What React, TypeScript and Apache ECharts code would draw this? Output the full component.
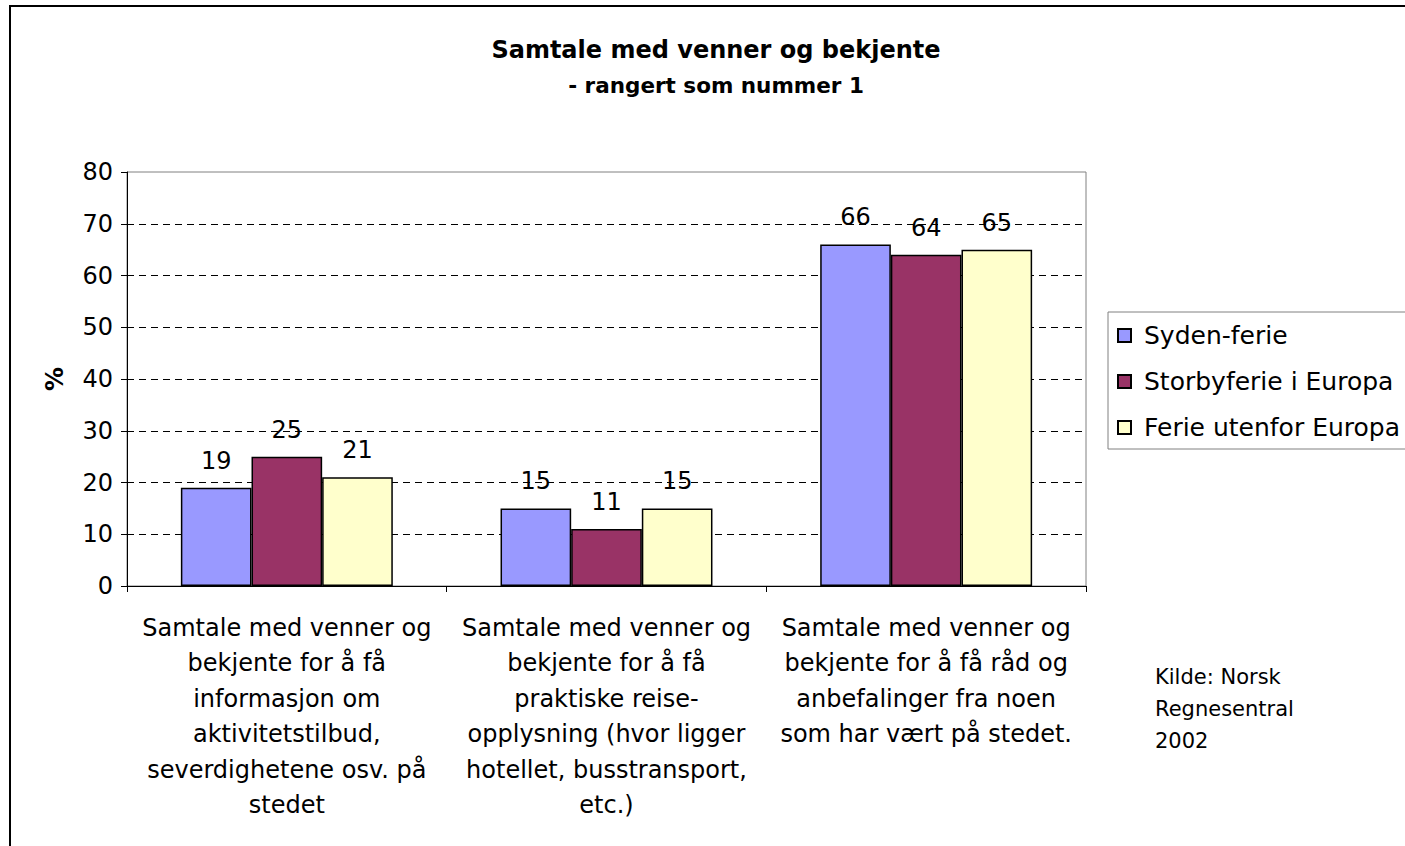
import React, { useEffect, useRef } from "react";
import * as echarts from "echarts";

const categories: string[] = [
  "Samtale med venner og\nbekjente for å få\ninformasjon om\naktivitetstilbud,\nseverdighetene osv. på\nstedet",
  "Samtale med venner og\nbekjente for å få\npraktiske reise-\nopplysning (hvor ligger\nhotellet, busstransport,\netc.)",
  "Samtale med venner og\nbekjente for å få råd og\nanbefalinger fra noen\nsom har vært på stedet.",
];

const seriesNames: string[] = ["Syden-ferie", "Storbyferie i Europa", "Ferie utenfor Europa"];
const sydenValues: number[] = [19, 15, 66];
const storbyValues: number[] = [25, 11, 64];
const utenforValues: number[] = [21, 15, 65];
const seriesColors: string[] = ["#9999FF", "#993366", "#FFFFCC"];

const yTicks = { min: 0, max: 80, interval: 10 };

const titleLine1 = "Samtale med venner og bekjente";
const titleLine2 = "- rangert som nummer 1";
const sourceNote = "Kilde: Norsk\nRegnesentral\n2002";
const yAxisName = "%";

const FONT = "'DejaVu Sans', 'Liberation Sans', Arial, sans-serif";

export default function App() {
  const ref = useRef<HTMLDivElement>(null);

  useEffect(() => {
    if (!ref.current) return;
    const chart = echarts.init(ref.current, undefined, { renderer: "svg" });
    const values = [sydenValues, storbyValues, utenforValues];
    chart.setOption({
      animation: false,
      backgroundColor: "#ffffff",
      textStyle: { fontFamily: FONT, color: "#000" },
      grid: {
        left: 127,
        top: 172,
        right: 319,
        bottom: 260,
        show: true,
        borderColor: "#808080",
        borderWidth: 1,
        backgroundColor: "transparent",
      },
      legend: {
        orient: "vertical",
        left: 1108,
        top: 312,
        padding: [11, 60, 9, 9],
        itemGap: 21,
        itemWidth: 13,
        itemHeight: 13,
        borderColor: "#808080",
        borderWidth: 1,
        icon: "rect",
        data: seriesNames,
        textStyle: {
          fontFamily: FONT,
          fontSize: 25,
          color: "#000",
          padding: [0, 0, 0, 8],
        },
      },
      xAxis: {
        type: "category",
        data: categories,
        axisLine: { show: true, lineStyle: { color: "#000", width: 1 } },
        axisTick: { show: true, length: 6, alignWithLabel: false, lineStyle: { color: "#000" } },
        axisLabel: {
          interval: 0,
          fontFamily: FONT,
          fontSize: 24,
          lineHeight: 35.5,
          margin: 24,
          color: "#000",
          align: "center",
        },
        splitLine: { show: false },
      },
      yAxis: {
        type: "value",
        min: yTicks.min,
        max: yTicks.max,
        interval: yTicks.interval,
        name: yAxisName,
        nameLocation: "middle",
        nameGap: 60,
        nameRotate: 90,
        nameTextStyle: { fontFamily: FONT, fontSize: 24, fontWeight: "bold", color: "#000" },
        axisLine: { show: true, lineStyle: { color: "#000", width: 1 } },
        axisTick: { show: true, length: 6, lineStyle: { color: "#000" } },
        axisLabel: { fontFamily: FONT, fontSize: 24, margin: 14, color: "#000" },
        splitLine: {
          show: true,
          showMaxLine: false,
          showMinLine: false,
          lineStyle: { color: "#000", type: [7, 5], width: 1 },
        },
      },
      series: seriesNames.map((name, i) => ({
        name,
        type: "bar",
        data: values[i],
        barGap: "0%",
        barCategoryGap: "33.7%",
        itemStyle: { color: seriesColors[i], borderColor: "#000", borderWidth: 1.5 },
        label: {
          show: true,
          position: "top",
          distance: 15,
          fontFamily: FONT,
          fontSize: 24,
          color: "#000",
        },
      })),
      graphic: [
        {
          type: "rect",
          shape: { x: 10, y: 6, width: 1500, height: 1000 },
          style: { fill: "none", stroke: "#000", lineWidth: 2 },
          silent: true,
          z: 100,
        },
        {
          type: "text",
          x: 716,
          y: 50,
          style: {
            text: titleLine1,
            fontFamily: FONT,
            fontSize: 24,
            fontWeight: "bold",
            fill: "#000",
            textAlign: "center",
            textVerticalAlign: "middle",
          },
        },
        {
          type: "text",
          x: 716,
          y: 85,
          style: {
            text: titleLine2,
            fontFamily: FONT,
            fontSize: 21.5,
            fontWeight: "bold",
            fill: "#000",
            textAlign: "center",
            textVerticalAlign: "middle",
          },
        },
        {
          type: "text",
          x: 1155,
          y: 661,
          style: {
            text: sourceNote,
            fontFamily: FONT,
            fontSize: 21,
            lineHeight: 32,
            fill: "#000",
            textAlign: "left",
            textVerticalAlign: "top",
          },
        },
      ],
    });
    return () => chart.dispose();
  }, []);

  return (
    <div
      ref={ref}
      style={{ position: "absolute", left: 0, top: 0, width: "1405px", height: "846px" }}
    />
  );
}
